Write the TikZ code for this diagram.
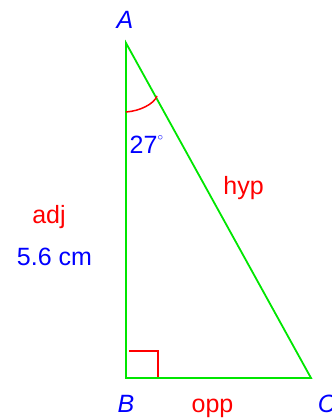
\documentclass[tikz,border=0pt]{standalone}
\usepackage{fontspec}
\setmainfont{Liberation Sans}
\definecolor{lgreen}{RGB}{0,230,0}
\begin{document}
\begin{tikzpicture}[x=1pt,y=-1pt,
  lbl/.style={font=\fontsize{25}{29}\selectfont,anchor=base,inner sep=0pt},
  vtx/.style={lbl,blue,font=\fontsize{25}{29}\selectfont\itshape},
  side/.style={lgreen,line width=1.8pt},
  redmark/.style={red,line width=1.5pt}]
\useasboundingbox (0,0) rectangle (331,419);
\coordinate (A) at (126,43);
\coordinate (B) at (126,378);
\coordinate (C) at (311,378);
\draw[side,line join=miter] (A) -- (B) -- (C) -- cycle;
\coordinate (r1) at (129,351);
\coordinate (r2) at (158,351);
\coordinate (r3) at (158,377);
\draw[redmark] (r1) -- (r2) -- (r3);
\coordinate (a1) at (126,112);
\coordinate (a2) at (157,96);
\draw[redmark] (a1) .. controls (140,111) and (154,104) .. (a2);
\node[vtx] (lA) at (125,29) {A};
\node[vtx] (lB) at (126,412) {B};
\node[vtx] (lC) at (327,412) {C};
\node[lbl,red] (opp) at (212.5,412) {opp};
\node[lbl,red] (hyp) at (243.5,195) {hyp};
\node[lbl,red] (adj) at (49,223) {adj};
\node[lbl,blue] (len) at (54.5,265) {5.6 cm};
\node[lbl,blue,anchor=base west] (ang) at (129.5,154) {27\raisebox{0.55em}{\fontsize{11}{12}\selectfont$\circ$}};
\end{tikzpicture}
\end{document}
